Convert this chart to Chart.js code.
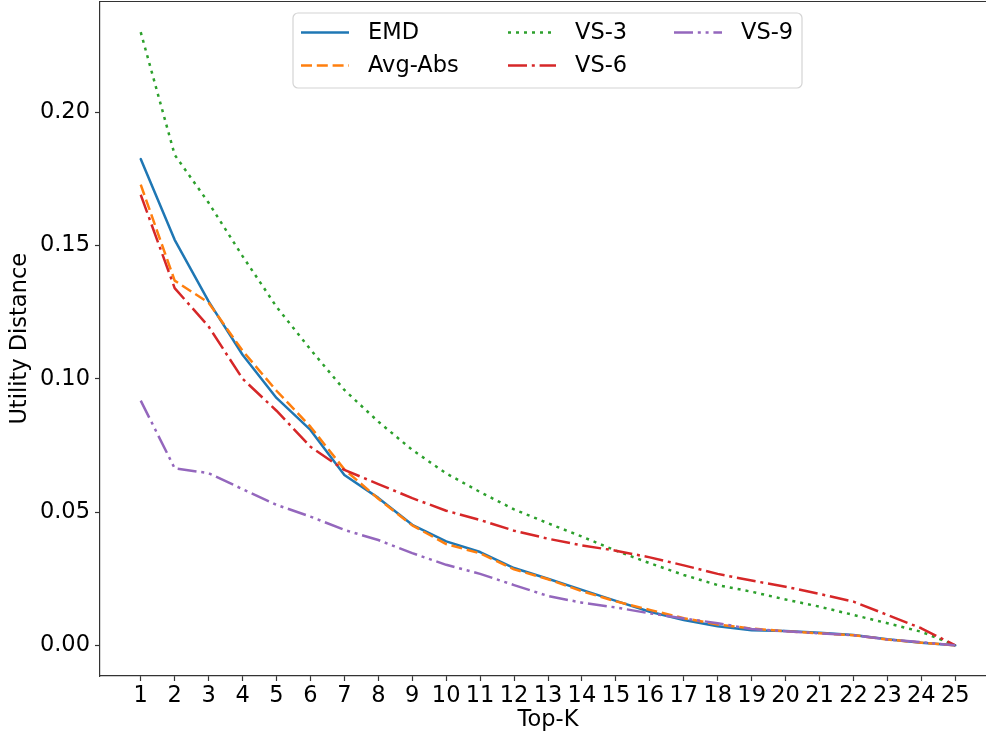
<!DOCTYPE html>
<html>
<head>
<meta charset="utf-8">
<script src="https://cdn.jsdelivr.net/npm/chart.js@4/dist/chart.umd.min.js"></script>
<style>
  html, body { margin: 0; padding: 0; background: #fff; overflow: hidden; }
  canvas { display: block; }
</style>
</head>
<body>
<canvas id="chart" width="1000" height="736"></canvas>
<script>
// Top-K cut-offs and utility distance per method
const topK = [1, 2, 3, 4, 5, 6, 7, 8, 9, 10, 11, 12, 13, 14, 15, 16, 17, 18, 19, 20, 21, 22, 23, 24, 25];
const yTicks = [0.00, 0.05, 0.10, 0.15, 0.20];

const emd    = [0.1824, 0.1521, 0.1290, 0.1090, 0.0928, 0.0808, 0.0639, 0.0553, 0.0452, 0.0390, 0.0350, 0.0290, 0.0250, 0.0208, 0.0167, 0.0126, 0.0095, 0.0072, 0.0057, 0.0054, 0.0047, 0.0039, 0.0023, 0.0010, 0.0000];
const avgAbs = [0.1728, 0.1368, 0.1285, 0.1105, 0.0955, 0.0820, 0.0660, 0.0550, 0.0450, 0.0380, 0.0345, 0.0285, 0.0248, 0.0203, 0.0165, 0.0133, 0.0102, 0.0078, 0.0063, 0.0053, 0.0045, 0.0038, 0.0022, 0.0010, 0.0000];
const vs3    = [0.2300, 0.1840, 0.1660, 0.1460, 0.1270, 0.1110, 0.0958, 0.0839, 0.0733, 0.0645, 0.0575, 0.0510, 0.0458, 0.0408, 0.0355, 0.0308, 0.0264, 0.0226, 0.0201, 0.0172, 0.0145, 0.0114, 0.0083, 0.0051, 0.0000];
const vs6    = [0.1690, 0.1340, 0.1196, 0.1000, 0.0880, 0.0745, 0.0658, 0.0605, 0.0552, 0.0505, 0.0470, 0.0430, 0.0400, 0.0375, 0.0355, 0.0330, 0.0300, 0.0268, 0.0243, 0.0220, 0.0193, 0.0164, 0.0114, 0.0064, 0.0000];
const vs9    = [0.0918, 0.0664, 0.0646, 0.0586, 0.0527, 0.0483, 0.0433, 0.0395, 0.0346, 0.0302, 0.0268, 0.0226, 0.0185, 0.0160, 0.0142, 0.0120, 0.0101, 0.0083, 0.0061, 0.0053, 0.0045, 0.0038, 0.0022, 0.0012, 0.0000];

const FONT = 'DejaVu Sans';
const FS = 22.5;

const toPoints = arr => arr.map((v, i) => ({ x: topK[i], y: v }));

function series(label, data, color, dash, order) {
  return {
    label, data: toPoints(data),
    borderColor: color, backgroundColor: color,
    borderWidth: 2.5, borderDash: dash, borderCapStyle: dash.length ? 'butt' : 'round',
    borderJoinStyle: 'round',
    pointRadius: 0, tension: 0, fill: false, order
  };
}

const datasets = [
  series('EMD', emd, '#1f77b4', [], 5),
  series('Avg-Abs', avgAbs, '#ff7f0e', [11, 4.8], 4),
  series('VS-3', vs3, '#2ca02c', [3, 5], 3),
  series('VS-6', vs6, '#d62728', [19, 4.8, 3, 4.8], 2),
  series('VS-9', vs9, '#9467bd', [19, 4.8, 3, 4.8, 3, 4.8], 1)
];

// legend laid out in columns: [EMD, Avg-Abs], [VS-3, VS-6], [VS-9]
const legendColumns = [[0, 1], [2, 3], [4]];

function noEdgePadding(s) {
  s.paddingTop = 0; s.paddingBottom = 0; s.paddingLeft = 0; s.paddingRight = 0;
}

const framePlugin = {
  id: 'frame',
  afterDraw(chart) {
    const { ctx, chartArea: a } = chart;
    ctx.save();
    // top and right spines
    ctx.strokeStyle = '#333';
    ctx.lineWidth = 1.2;
    ctx.beginPath();
    ctx.moveTo(a.left, a.top);
    ctx.lineTo(a.right, a.top);
    ctx.lineTo(a.right, a.bottom);
    ctx.stroke();

    // legend box
    const bx = 293, by = 13, bw = 509, bh = 75, r = 5;
    ctx.fillStyle = 'rgba(255,255,255,0.85)';
    ctx.strokeStyle = '#d4d4d4';
    ctx.lineWidth = 1.2;
    ctx.beginPath();
    ctx.roundRect(bx, by, bw, bh, r);
    ctx.fill();
    ctx.stroke();

    const colX = [301, 508, 674];
    const rowY = [32.5, 65.5];
    const handle = 48;
    ctx.font = FS + 'px "' + FONT + '"';
    ctx.textBaseline = 'middle';
    ctx.textAlign = 'left';
    legendColumns.forEach((col, ci) => {
      col.forEach((di, ri) => {
        const ds = chart.data.datasets[di];
        const x = colX[ci], y = rowY[ri];
        ctx.strokeStyle = ds.borderColor;
        ctx.lineWidth = ds.borderWidth;
        ctx.setLineDash(ds.borderDash);
        ctx.lineCap = 'butt';
        ctx.beginPath();
        ctx.moveTo(x, y);
        ctx.lineTo(x + handle, y);
        ctx.stroke();
        ctx.setLineDash([]);
        ctx.fillStyle = '#000';
        ctx.fillText(ds.label, x + 67, y + 1);
      });
    });
    ctx.restore();
  }
};

new Chart(document.getElementById('chart'), {
  type: 'line',
  data: { datasets },
  plugins: [framePlugin],
  options: {
    responsive: false,
    animation: false,
    layout: { padding: { top: 1.5, right: 4, left: 0, bottom: 0 } },
    plugins: { legend: { display: false }, tooltip: { enabled: false } },
    scales: {
      x: {
        type: 'linear',
        min: -0.2, max: 26.2,
        afterBuildTicks: s => { s.ticks = topK.map(v => ({ value: v })); },
        afterFit: s => { s.height = 60; noEdgePadding(s); },
        ticks: {
          autoSkip: false, maxRotation: 0, padding: 2,
          color: '#000', font: { family: FONT, size: FS },
          callback: v => String(v)
        },
        grid: { drawOnChartArea: false, drawTicks: true, tickLength: 5, tickColor: '#333', tickWidth: 1.2 },
        border: { display: true, color: '#333', width: 1.2 },
        title: { display: true, text: 'Top-K', color: '#000', font: { family: FONT, size: FS }, padding: { top: 0, bottom: 2 } }
      },
      y: {
        type: 'linear',
        min: -0.0115, max: 0.2415,
        afterBuildTicks: s => { s.ticks = yTicks.map(v => ({ value: v })); },
        afterFit: s => { s.width = 100; noEdgePadding(s); },
        ticks: {
          padding: 5, color: '#000', font: { family: FONT, size: FS },
          callback: v => Number(v).toFixed(2)
        },
        grid: { drawOnChartArea: false, drawTicks: true, tickLength: 5, tickColor: '#333', tickWidth: 1.2 },
        border: { display: true, color: '#333', width: 1.2 },
        title: { display: true, text: 'Utility Distance', color: '#000', font: { family: FONT, size: FS }, padding: { top: 7, bottom: 0 } }
      }
    }
  }
});
</script>
</body>
</html>
